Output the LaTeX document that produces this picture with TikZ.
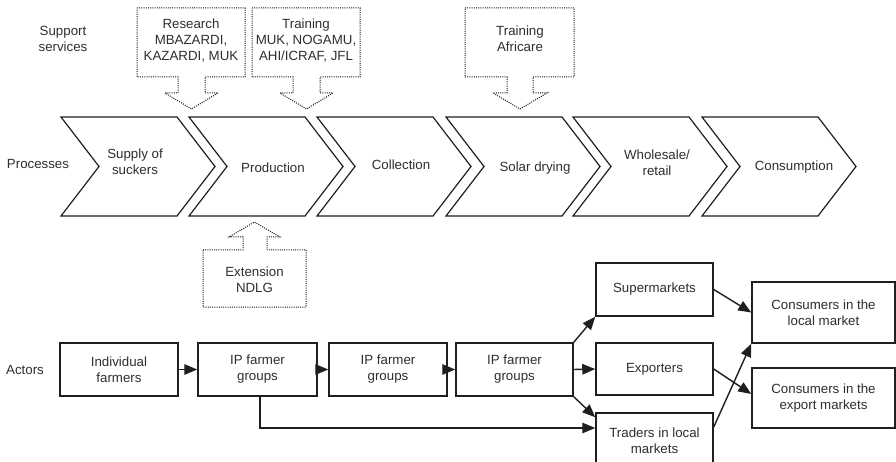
\documentclass[tikz,border=0pt]{standalone}
\usepackage{fontspec}
\setmainfont{Liberation Sans}
\usetikzlibrary{arrows.meta,calc}
\begin{document}
\begin{tikzpicture}[x=1pt,y=-1pt,
  every node/.style={font=\fontsize{13.3}{16}\selectfont, text=black!82, align=center, inner sep=0pt},
  chev/.style={draw=black!88, line width=1.2pt, line join=miter},
  callout/.style={draw=black!92, line width=1pt, dash pattern=on 1pt off 1.2pt},
  actor/.style={draw=black!88, line width=1.5pt, minimum height=53pt},
  arr/.style={draw=black!88, line width=1.4pt, -{Triangle[length=13pt,width=10.5pt]}}
]
\useasboundingbox (0,0) rectangle (896,462);
\clip (0,0) rectangle (896,462);

% ---- support services callouts ----
\node (lsup) at (63,39) {Support\\services};
\draw[callout] (137,8) -- (245,8) -- (245,77) -- (205,77) -- (205,93) -- (218,93) -- (191.5,109) -- (165,93) -- (178,93) -- (178,77) -- (137,77) -- cycle;
\node (res) at (191,41) {Research\\MBAZARDI,\\KAZARDI, MUK};
\draw[callout] (252,8) -- (360,8) -- (360,77) -- (320,77) -- (320,93) -- (333,93) -- (306.5,109) -- (280,93) -- (293,93) -- (293,77) -- (252,77) -- cycle;
\node (tr1) at (306,41) {Training\\MUK, NOGAMU,\\AHI/ICRAF, JFL};
\draw[callout] (465,8) -- (574,8) -- (574,77) -- (533,77) -- (533,93) -- (547,93) -- (520,109) -- (493,93) -- (507,93) -- (507,77) -- (465,77) -- cycle;
\node (tr2) at (520,39) {Training\\Africare};
\draw[callout] (203,250) -- (243,250) -- (243,237) -- (229,237) -- (254.5,222) -- (280,237) -- (267,237) -- (267,250) -- (306,250) -- (306,307) -- (203,307) -- cycle;
\node (ext) at (254.5,280) {Extension\\NDLG};

% ---- processes ----
\node (lproc) at (38,164) {Processes};
\foreach \L in {61,189,317,446,573,702}{
  \draw[chev] (\L,117) -- ({\L+116},117) -- ({\L+154},166.5) -- ({\L+116},216) -- (\L,216) -- ({\L+38},166.5) -- cycle;
}
\node (p1) at (135,162) {Supply of\\suckers};
\node (p2) at (273,168) {Production};
\node (p3) at (401,165) {Collection};
\node (p4) at (535,168) {Solar drying};
\node (p5) at (657,163) {Wholesale/\\retail};
\node (p6) at (794,167) {Consumption};

% ---- actors ----
\node (lact) at (25,370) {Actors};
\node[actor, minimum width=118pt] (ind) at (119,369.5) {Individual\\farmers};
\node[actor, minimum width=119pt] (ip1) at (257.5,369.5) {IP farmer\\groups};
\node[actor, minimum width=118pt] (ip2) at (388,369.5) {IP farmer\\groups};
\node[actor, minimum width=117pt] (ip3) at (514.5,369.5) {IP farmer\\groups};
\node[actor, minimum width=117pt] (sup) at (654.5,289.5) {Supermarkets};
\node[actor, minimum width=117pt, minimum height=52pt] (exp) at (654.5,369) {Exporters};
\node[actor, minimum width=117pt, minimum height=56pt] (tra) at (654.5,441) {Traders in local\\markets};
\node[actor, minimum width=143pt, minimum height=61pt] (cl) at (823.5,312.5) {Consumers in the\\local market};
\node[actor, minimum width=143pt, minimum height=60pt] (ce) at (823.5,398) {Consumers in the\\export markets};

\draw[arr] (ind.east) -- (ip1.west);
\draw[arr] (ip1.east) -- (ip2.west);
\draw[arr] (ip2.east) -- (ip3.west);
\draw[arr] (ip3.north east) -- (sup.south west);
\draw[arr] (ip3.east) -- (exp.west);
\draw[arr] (ip3.south east) -- ([yshift=-5pt]tra.north west);
\draw[arr] ([xshift=2.5pt]ip1.south) |- ([yshift=13pt]tra.west);
\draw[arr] (sup.east) -- (cl.west);
\draw[arr] (exp.east) -- ([yshift=4pt]ce.west);
\draw[arr] ([yshift=14pt]tra.east) -- (cl.south west);
\end{tikzpicture}
\end{document}
